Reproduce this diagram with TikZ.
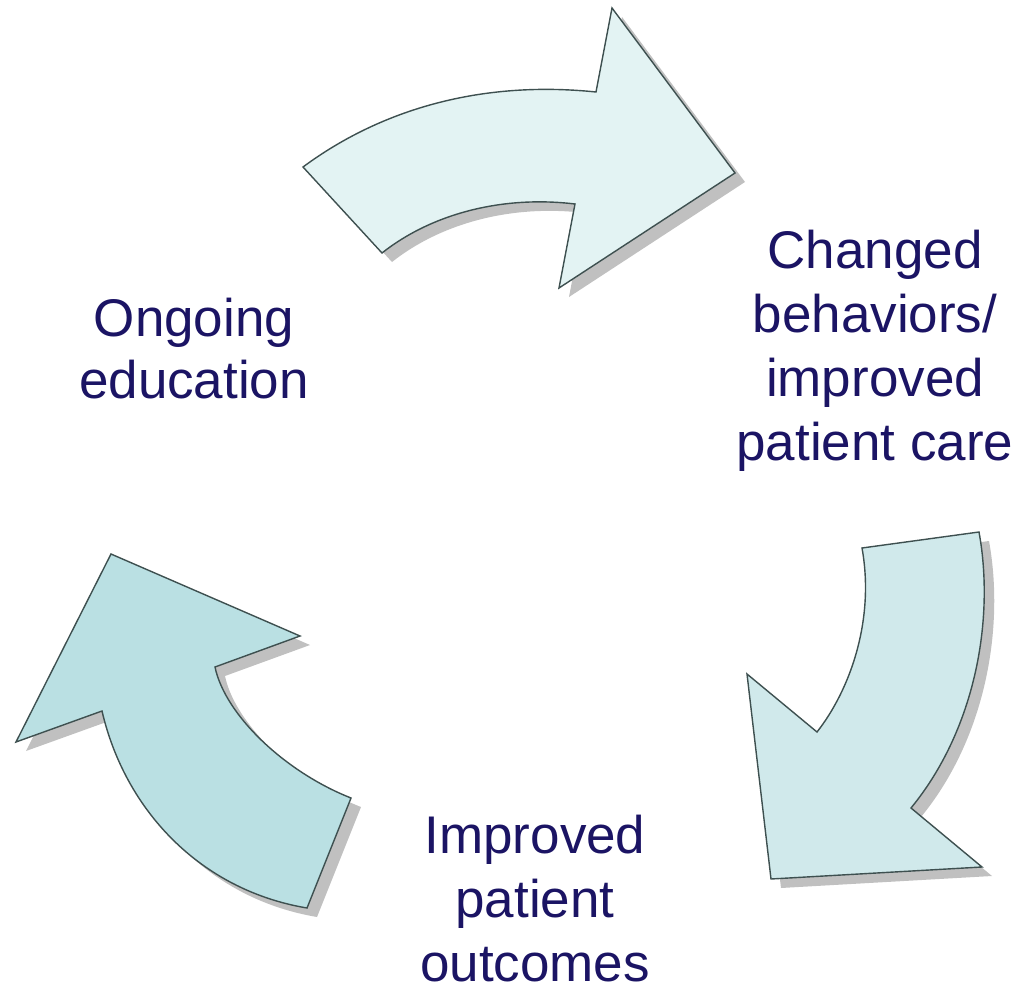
\documentclass[tikz,border=0pt]{standalone}
\usepackage{fontspec}
\setmainfont{Liberation Sans}
\definecolor{txtc}{HTML}{1B1464}
\definecolor{edgec}{HTML}{3E5050}
\definecolor{fillA}{HTML}{E3F3F3}
\definecolor{fillB}{HTML}{D0E9EB}
\definecolor{fillC}{HTML}{BAE0E3}
\definecolor{shadc}{HTML}{C0C0C0}
\newcommand\pathTop{(303,167) .. controls (380,110) and (480,80) .. (596,92) -- (612,8) -- (735,173) -- (559,288) -- (575,204) .. controls (500,195) and (430,215) .. (382,253) -- cycle}
\newcommand\pathRight{(862,548) -- (979,532) .. controls (995,620) and (975,730) .. (911,808) -- (982,867) -- (771,879) -- (747,674) -- (817,732) .. controls (850,690) and (875,620) .. (862,548) -- cycle}
\newcommand\pathLeft{(307,908) -- (351,798) .. controls (285,772) and (225,715) .. (215,667) -- (300,636) -- (111,554) -- (16,742) -- (102,711) .. controls (125,810) and (200,890) .. (307,908) -- cycle}
\begin{document}
\begin{tikzpicture}[x=1pt,y=-1pt,
  shad/.style={fill=shadc,draw=none,shift={(10,9)}},
  arr/.style={draw=edgec,line width=1.4pt,line join=miter},
  lbl/.style={text=txtc,font=\fontsize{53}{64}\selectfont,align=center,inner sep=0pt}]
\useasboundingbox (0,0) rectangle (1020,987);
\fill[shad] \pathTop;
\fill[shad] \pathRight;
\fill[shad] \pathLeft;
\filldraw[arr,fill=fillA] \pathTop;
\filldraw[arr,fill=fillB] \pathRight;
\filldraw[arr,fill=fillC] \pathLeft;
\node[lbl,font=\fontsize{53}{62}\selectfont] (ongoing) at (194,349) {Ongoing\\education};
\node[lbl] (changed) at (875,351) {Changed\\behaviors/\\improved\\patient care};
\node[lbl] (improved) at (535,899) {Improved\\patient\\outcomes};
\end{tikzpicture}
\end{document}
